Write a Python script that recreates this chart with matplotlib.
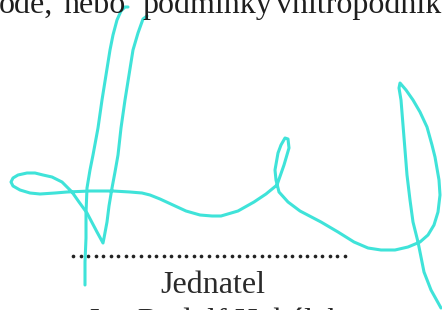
import numpy as np
import matplotlib.pyplot as plt

# signature, pixel coords (y grows downward)
main_x = [147, 143, 138, 133, 129, 125, 121, 118, 115, 112, 109, 107, 104, 103,
          97, 87, 79, 72, 62, 52, 43, 35, 27, 18, 13, 11, 13, 20, 30, 40, 55, 67,
          90, 113, 130, 142, 150, 160, 173, 186, 200, 212, 221, 238, 254, 266,
          277, 284, 289, 288, 285, 281, 278, 275, 276, 279, 288, 300, 321, 338,
          354, 368, 381, 395, 408, 420, 428, 434, 438, 440, 439, 435, 432, 427,
          420, 413, 406, 400, 399, 401, 403, 405, 407, 410, 413, 418, 424, 431, 441]
main_y = [16, 19, 33, 50, 75, 100, 128, 155, 172, 188, 206, 222, 238, 243,
          232, 213, 202, 192, 182, 177, 175, 173, 173, 175, 178, 182, 186, 190, 193, 194, 193, 192,
          191, 191, 192, 193, 195, 199, 205, 211, 215, 216, 216, 211, 202, 194,
          185, 165, 148, 139, 138, 145, 153, 170, 180, 192, 202, 211, 222, 232,
          242, 248, 250, 250, 247, 242, 235, 225, 212, 195, 180, 157, 145, 127,
          112, 100, 90, 83, 88, 100, 125, 150, 175, 200, 222, 242, 272, 290, 308]

stroke_x = [128, 125, 121, 117, 113, 110, 106, 102, 98, 93, 90, 87, 86, 86, 85, 85]
stroke_y = [7, 7, 11, 20, 35, 50, 75, 100, 128, 155, 170, 188, 213, 238, 262, 285]

top_words = ["ode,", "nebo", "podmínky", "vnitropodnik"]
top_word_x = [-1, 63, 142, 276]
title = "Jednatel"
name = "Jan Rudolf Hubálek"
n_dots = 37

ink = "#3fe3d9"

fig = plt.figure(figsize=(4.42, 3.10), dpi=100)
ax = fig.add_axes([0, 0, 1, 1])
ax.set_xlim(0, 442)
ax.set_ylim(310, 0)
ax.axis("off")

for w, x in zip(top_words, top_word_x):
    ax.text(x, 13, w, fontsize=23, family="Liberation Serif", color="#1e1e1e",
            ha="left", va="baseline")

ax.scatter(np.linspace(73, 345, n_dots), np.full(n_dots, 256), s=7, color="#222222", lw=0)

ax.text(213, 293, title, fontsize=23, family="Liberation Serif", color="#2a2a2a",
        ha="center", va="baseline")
ax.text(215, 330, name, fontsize=23, family="Liberation Serif", color="#2a2a2a",
        ha="center", va="baseline")

ax.plot(main_x, main_y, color=ink, lw=2.2, solid_joinstyle="round", solid_capstyle="round")
ax.plot(stroke_x, stroke_y, color=ink, lw=2.2, solid_joinstyle="round", solid_capstyle="round")

fig.savefig("out.png", dpi=100)
